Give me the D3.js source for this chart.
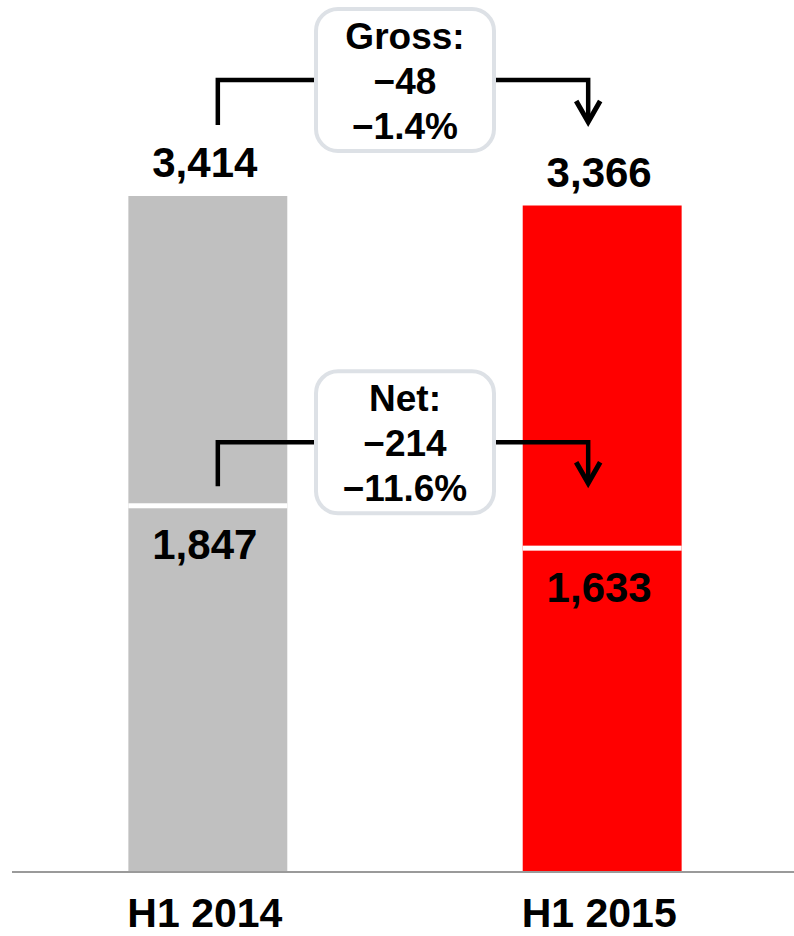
<!DOCTYPE html>
<html>
<head>
<meta charset="utf-8">
<script src="https://cdn.jsdelivr.net/npm/d3@7"></script>
<style>
  body { margin: 0; background: #fff; }
  svg text { font-family: "Liberation Sans", Arial, sans-serif; font-weight: bold; fill: #000; }
</style>
</head>
<body>
<svg id="chart"></svg>
<script>
// data
const periods = ["H1 2014", "H1 2015"];
const gross = [3414, 3366];
const net = [1847, 1633];
const barColors = ["#c0c0c0", "#ff0000"];
const changeTitles = ["Gross:", "Net:"];
const changeAbs = ["\u221248", "\u2212214"];
const changePct = ["\u22121.4%", "\u221211.6%"];

const width = 794, height = 936;
const baseY = 872;

const svg = d3.select("#chart")
  .attr("width", width)
  .attr("height", height);

const x = d3.scaleBand()
  .domain(periods)
  .range([14, 796])
  .paddingInner(0.597)
  .paddingOuter(0.29);

// 3414 -> 676px tall
const y = d3.scaleLinear()
  .domain([0, 3414])
  .range([baseY, 196]);

const bw = x.bandwidth();

// bars (gross height)
svg.selectAll(".bar")
  .data(periods)
  .enter().append("rect")
  .attr("class", "bar")
  .attr("x", d => x(d))
  .attr("width", bw)
  .attr("y", (d, i) => y(gross[i]))
  .attr("height", (d, i) => baseY - y(gross[i]))
  .attr("fill", (d, i) => barColors[i]);

// white divider at net value
svg.selectAll(".divider")
  .data(periods)
  .enter().append("rect")
  .attr("class", "divider")
  .attr("x", d => x(d))
  .attr("width", bw)
  .attr("y", (d, i) => y(net[i]) - 3)
  .attr("height", 5)
  .attr("fill", "#fff");

// baseline axis
const axis = svg.append("g")
  .attr("transform", `translate(0,${baseY})`)
  .call(d3.axisBottom(x).tickSize(0).tickPadding(0));
axis.select(".domain")
  .attr("d", `M12,0H${width}`)
  .attr("stroke", "#9a9a9a")
  .attr("stroke-width", 2);
axis.selectAll(".tick text")
  .attr("dy", 0)
  .attr("y", 55)
  .attr("dx", -3)
  .style("font-family", "'Liberation Sans', Arial, sans-serif")
  .style("font-weight", "bold")
  .style("font-size", "41px")
  .attr("fill", "#000");

// value labels
const fmt = d3.format(",");
svg.selectAll(".gross-label")
  .data(periods)
  .enter().append("text")
  .attr("x", d => x(d) + bw / 2 - 3)
  .attr("y", (d, i) => y(gross[i]) - 19)
  .attr("text-anchor", "middle")
  .style("font-size", "42px")
  .text((d, i) => fmt(gross[i]));

svg.selectAll(".net-label")
  .data(periods)
  .enter().append("text")
  .attr("x", d => x(d) + bw / 2 - 3)
  .attr("y", (d, i) => y(net[i]) + 53)
  .attr("text-anchor", "middle")
  .style("font-size", "42px")
  .text((d, i) => fmt(net[i]));

// change annotations: gross (row 0) and net (row 1)
const rows = [
  { lineY: y(gross[0]) - 116, leftDrop: 45, tipDrop: 42 },
  { lineY: y(net[0]) - 64, leftDrop: 44, tipDrop: 41 }
];

const x0 = x(periods[0]) + bw / 2 + 10;
const x1 = x(periods[1]) + bw / 2 - 14;
const boxW = 178, boxH = 142;
const boxCx = (x(periods[0]) + x(periods[1]) + bw) / 2;

rows.forEach((r, i) => {
  const g = svg.append("g");
  const ly = r.lineY;
  const tipY = ly + r.tipDrop;

  g.append("path")
    .attr("d", `M${x0},${ly + r.leftDrop}V${ly}H${x1}V${tipY}`)
    .attr("fill", "none")
    .attr("stroke", "#000")
    .attr("stroke-width", 4.5);

  g.append("path")
    .attr("d", `M${x1 - 12},${tipY - 21}L${x1},${tipY}L${x1 + 12},${tipY - 21}`)
    .attr("fill", "none")
    .attr("stroke", "#000")
    .attr("stroke-width", 5);

  g.append("rect")
    .attr("x", boxCx - boxW / 2)
    .attr("y", ly - boxH / 2)
    .attr("width", boxW)
    .attr("height", boxH)
    .attr("rx", 22)
    .attr("fill", "#fff")
    .attr("stroke", "#dde1e6")
    .attr("stroke-width", 4);

  const lines = [changeTitles[i], changeAbs[i], changePct[i]];
  g.selectAll("text")
    .data(lines)
    .enter().append("text")
    .attr("x", boxCx)
    .attr("y", (d, k) => ly - 31 + k * 45)
    .attr("text-anchor", "middle")
    .style("font-size", "37px")
    .text(d => d);
});
</script>
</body>
</html>
